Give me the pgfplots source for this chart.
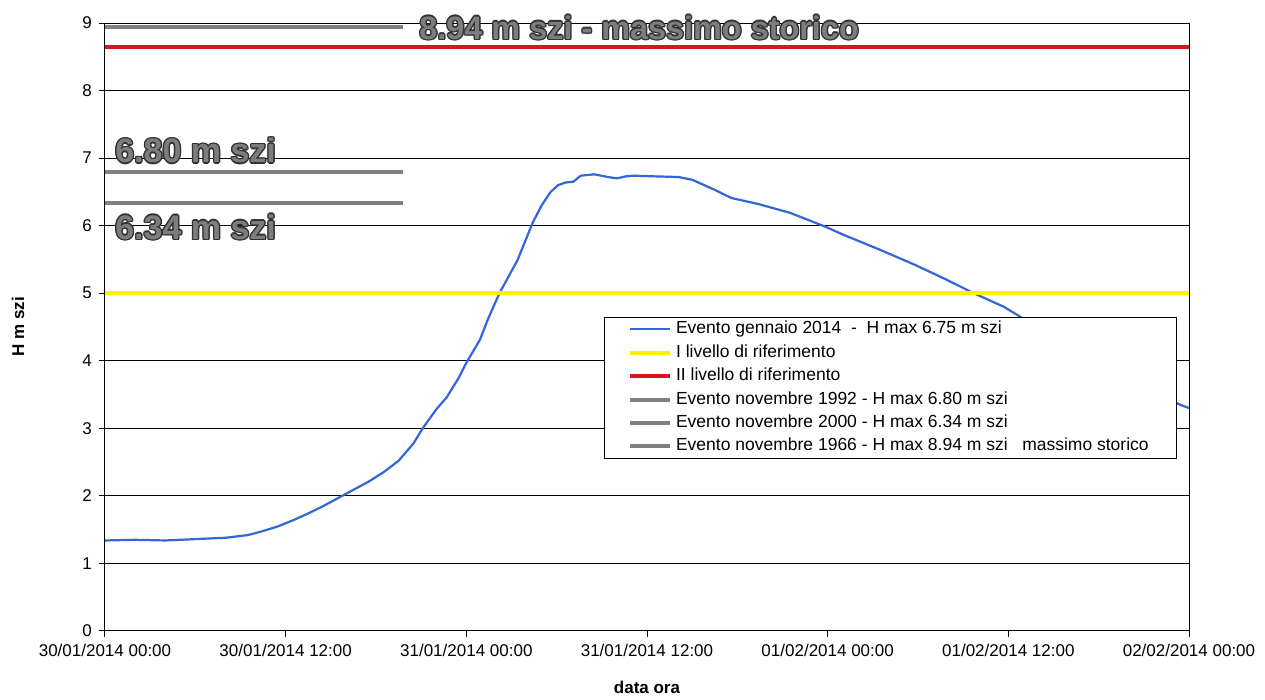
\documentclass[border=0pt]{standalone}
\usepackage{pgfplots}
\pgfplotsset{compat=1.18}
\usepackage{fontspec}
\setmainfont{Liberation Sans}
\definecolor{cblue}{RGB}{51,102,214}
\definecolor{cyel}{RGB}{255,240,0}
\definecolor{cred}{RGB}{220,20,30}
\definecolor{cgray}{RGB}{128,128,128}
\definecolor{tfill}{RGB}{125,125,125}
\definecolor{tline}{RGB}{50,50,50}
\newcommand{\outl}[4]{%
 \node[anchor=base west,inner sep=0pt,text=tline,font=\bfseries\fontsize{#4}{19}\selectfont,xshift=0.7pt] at (axis cs:#1,#2) {#3};
 \node[anchor=base west,inner sep=0pt,text=tline,font=\bfseries\fontsize{#4}{19}\selectfont,xshift=-0.7pt] at (axis cs:#1,#2) {#3};
 \node[anchor=base west,inner sep=0pt,text=tline,font=\bfseries\fontsize{#4}{19}\selectfont,yshift=0.7pt] at (axis cs:#1,#2) {#3};
 \node[anchor=base west,inner sep=0pt,text=tline,font=\bfseries\fontsize{#4}{19}\selectfont,yshift=-0.7pt] at (axis cs:#1,#2) {#3};
 \node[anchor=base west,inner sep=0pt,text=tline,font=\bfseries\fontsize{#4}{19}\selectfont,xshift=0.5pt,yshift=0.5pt] at (axis cs:#1,#2) {#3};
 \node[anchor=base west,inner sep=0pt,text=tline,font=\bfseries\fontsize{#4}{19}\selectfont,xshift=-0.5pt,yshift=0.5pt] at (axis cs:#1,#2) {#3};
 \node[anchor=base west,inner sep=0pt,text=tline,font=\bfseries\fontsize{#4}{19}\selectfont,xshift=0.5pt,yshift=-0.5pt] at (axis cs:#1,#2) {#3};
 \node[anchor=base west,inner sep=0pt,text=tline,font=\bfseries\fontsize{#4}{19}\selectfont,xshift=-0.5pt,yshift=-0.5pt] at (axis cs:#1,#2) {#3};
 \node[anchor=base west,inner sep=0pt,text=tfill,font=\bfseries\fontsize{#4}{19}\selectfont] at (axis cs:#1,#2) {#3};
}
\begin{document}
\begin{tikzpicture}[font=\fontsize{8.5}{10}\selectfont]
\useasboundingbox (-52.5pt,-34.5pt) rectangle (580pt,315.5pt);
\begin{axis}[
 at={(0,0)}, anchor=south west,
 scale only axis, width=542pt, height=304pt,
 clip mode=individual,
 xmin=0, xmax=72, ymin=0, ymax=9,
 xtick={0,12,...,72},
 xticklabels={30/01/2014 00:00, 30/01/2014 12:00, 31/01/2014 00:00, 31/01/2014 12:00, 01/02/2014 00:00, 01/02/2014 12:00, 02/02/2014 00:00},
 ytick={0,1,...,9},
 ymajorgrids, major grid style={black, line width=0.5pt},
 tick align=outside, major tick length=3pt,
 xtick pos=left, ytick pos=left,
 tick style={black, line width=0.5pt},
 axis line style={black, line width=0.5pt},
 ticklabel style={font=\fontsize{8.5}{10}\selectfont},
 /pgf/number format/assume math mode=true,
 xlabel={data ora}, ylabel={H m szi},
 label style={font=\bfseries\fontsize{8.5}{10}\selectfont},
 xlabel style={at={(axis description cs:0.5,-0.092)},anchor=center},
 ylabel style={at={(axis description cs:-0.0803,0.5)},anchor=center},
 legend style={at={(0.46,0.516)},anchor=north west, draw=black, fill=white,
   font=\fontsize{8.75}{10}\selectfont, row sep=2pt, inner xsep=12pt, inner ysep=1pt,
   nodes={inner ysep=0.8pt, text height=6.3pt, text depth=1.8pt}},
 legend cell align=left,
 legend image code/.code={\draw[#1] (0pt,0pt) -- (20pt,0pt);},
]
\addplot[cblue, line width=1.1pt] coordinates {
(0,1.34) (2,1.35) (4,1.34) (6,1.36) (8,1.38) (9.5,1.42) (10.5,1.48) (11.5,1.55)
(12.5,1.64) (13.5,1.74) (14.5,1.85) (15.5,1.97) (16.5,2.09) (17.5,2.21) (18.5,2.35)
(19.5,2.52) (20.5,2.78) (21.1,3.00) (22,3.28) (22.7,3.46) (23.5,3.75) (24.0,3.97)
(24.9,4.31) (25.5,4.65) (26.2,5.00) (27.4,5.49) (28.4,6.04) (29.0,6.30) (29.6,6.50)
(30.1,6.60) (30.6,6.64) (31.1,6.65) (31.6,6.74) (32.5,6.76) (33.4,6.72) (34.0,6.70)
(34.6,6.73) (35.1,6.74) (36.5,6.73) (38.1,6.72) (39.0,6.68) (40.0,6.58) (40.5,6.53)
(41.6,6.41) (43.4,6.32) (45.5,6.19) (47.9,5.98) (49.1,5.86) (51.4,5.65) (53.8,5.42)
(55.9,5.20) (57.7,5.00) (59.7,4.80) (60.8,4.65) (63,4.35) (66,3.98) (69,3.62)
(71.4,3.35) (72,3.30)};
\addlegendentry{Evento gennaio 2014~~-~~H max 6.75 m szi}
\addplot[cyel, line width=2pt] coordinates {(0,5) (72,5)};
\addlegendentry{I livello di riferimento}
\addplot[cred, line width=2pt] coordinates {(0,8.65) (72,8.65)};
\addlegendentry{II livello di riferimento}
\addplot[cgray, line width=2pt] coordinates {(0,6.80) (19.8,6.80)};
\addlegendentry{Evento novembre 1992 - H max 6.80 m szi}
\addplot[cgray, line width=2pt] coordinates {(0,6.34) (19.8,6.34)};
\addlegendentry{Evento novembre 2000 - H max 6.34 m szi}
\addplot[cgray, line width=2pt] coordinates {(0,8.94) (19.8,8.94)};
\addlegendentry{Evento novembre 1966 - H max 8.94 m szi~~~massimo storico}
\outl{0.66}{6.93}{6.80 m szi}{17}
\outl{0.66}{5.80}{6.34 m szi}{17}
\outl{20.86}{8.76}{8.94 m szi - massimo storico}{16.2}
\end{axis}
\end{tikzpicture}
\end{document}
